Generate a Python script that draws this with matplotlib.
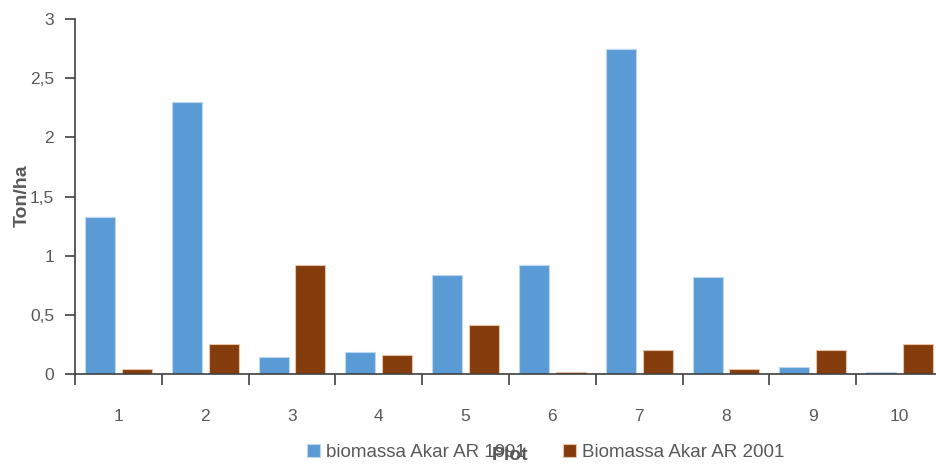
import numpy as np
import matplotlib.pyplot as plt
from matplotlib.ticker import FuncFormatter

# data
plots = ['1', '2', '3', '4', '5', '6', '7', '8', '9', '10']
akar_1991 = [1.33, 2.30, 0.14, 0.19, 0.84, 0.92, 2.75, 0.82, 0.06, 0.02]
akar_2001 = [0.04, 0.25, 0.92, 0.16, 0.41, 0.015, 0.20, 0.04, 0.20, 0.25]

plt.rcParams['font.family'] = ['Liberation Sans', 'DejaVu Sans']
grey = '#595959'

fig = plt.figure(figsize=(9.36, 4.65), dpi=100)
ax = fig.add_axes([0.0801, 0.1957, 0.9274, 0.7634])

x = np.arange(len(plots))
w = 0.345
ax.bar(x - 0.212, akar_1991, w, color='#5B9BD5', edgecolor='#BDD7EE', linewidth=0.8,
       label='biomassa Akar AR 1991')
ax.bar(x + 0.212, akar_2001, w, color='#843C0C', edgecolor='#E8C3A8', linewidth=0.8,
       label='Biomassa Akar AR 2001')

ax.set_xlim(-0.5, len(plots) - 0.5)
ax.set_ylim(0, 3)
ax.set_yticks([0, 0.5, 1, 1.5, 2, 2.5, 3])
ax.yaxis.set_major_formatter(FuncFormatter(lambda v, p: ('%g' % v).replace('.', ',')))

# x ticks on group borders, labels in the middle
ax.set_xticks(np.arange(len(plots) + 1) - 0.5)
ax.set_xticklabels([])
ax.set_xticks(x, minor=True)
ax.set_xticklabels(plots, minor=True)
ax.tick_params(axis='x', which='major', length=8, width=1.2, color='#404040', direction='out')
ax.tick_params(axis='x', which='minor', length=0, pad=25, labelsize=12.5, labelcolor=grey)
ax.tick_params(axis='y', length=7, width=1.2, color='#404040', pad=8, labelsize=12.5, labelcolor=grey)

for s in ['top', 'right']:
    ax.spines[s].set_visible(False)
ax.spines['left'].set_color('#404040')
ax.spines['bottom'].set_color('#404040')
ax.spines['left'].set_linewidth(1.2)
ax.spines['bottom'].set_linewidth(1.2)

fig.text(0.024, 0.58, 'Ton/ha', rotation=90, ha='center', va='center',
         fontsize=14, fontweight='bold', color=grey)

leg = ax.legend(loc='center', bbox_to_anchor=(0.583, 0.027), bbox_transform=fig.transFigure,
                ncol=2, frameon=False, fontsize=13.5, handlelength=0.7, handleheight=0.7,
                handletextpad=0.3, columnspacing=2.0, labelcolor=grey)

fig.text(0.545, 0.02, 'Plot', ha='center', va='center', fontsize=14,
         fontweight='bold', color=grey)

plt.savefig('out.png', dpi=100)
plt.close()
